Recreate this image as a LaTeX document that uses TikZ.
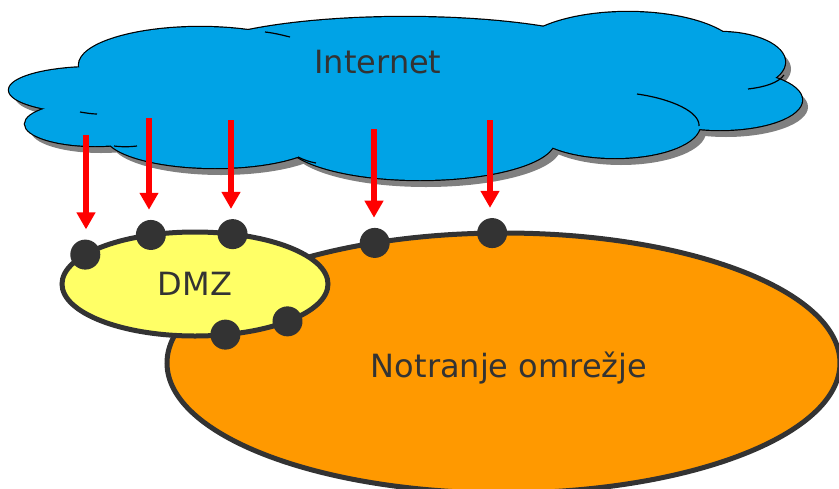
\documentclass[tikz,border=0pt]{standalone}
\usepackage{fontspec}
\setmainfont{DejaVu Sans}
\usetikzlibrary{shapes.geometric,arrows.meta}

\definecolor{cloudblue}{HTML}{00A3E6}
\definecolor{cloudshade}{HTML}{808080}
\definecolor{dmzyellow}{HTML}{FFFF66}
\definecolor{lanorange}{HTML}{FF9900}
\definecolor{darkgrey}{HTML}{333333}

% cloud lobes: centre x / centre y / x radius / y radius
\def\cloudlobes{95/90/86/23, 95/124/70/22, 200/65/121/38, 405/60/218/43,
  628/55/112/43, 720/62/65/30, 720/100/82/30, 615/125/85/33,
  420/140/135/40, 215/135/110/33}

\begin{document}
\begin{tikzpicture}[
    x=1pt, y=-1pt,
    zone/.style={ellipse, draw=darkgrey, line width=5pt, outer sep=0pt, inner sep=0pt, text=darkgrey, font=\fontsize{32}{38}\selectfont},
    port/.style={circle, fill=darkgrey, minimum size=30pt, inner sep=0pt},
    caption/.style={anchor=base, inner sep=0pt, text=darkgrey, font=\fontsize{32}{38}\selectfont},
    arrow/.style={-{Triangle[width=18pt,length=17pt]}, red, line width=6pt, shorten >=10pt}
]
\useasboundingbox (0,0) rectangle (839,488);
\clip (0,0) rectangle (839,488);

% Internet cloud: shadow, outline, fill
\foreach \cx/\cy/\rx/\ry in \cloudlobes
    \fill[cloudshade] (\cx+6,\cy+7) ellipse [x radius=\rx, y radius=\ry];
\fill[cloudshade] (416,102) ellipse [x radius=320, y radius=50];
\foreach \cx/\cy/\rx/\ry in \cloudlobes
    \draw[black, line width=2.4pt] (\cx,\cy) ellipse [x radius=\rx, y radius=\ry];
\foreach \cx/\cy/\rx/\ry in \cloudlobes
    \fill[cloudblue] (\cx,\cy) ellipse [x radius=\rx, y radius=\ry];
\fill[cloudblue] (410,95) ellipse [x radius=320, y radius=50];
% inner lobe edges
\draw[black, line width=1.2pt] (637,94) .. controls (672,99) and (700,112) .. (699,126)
    (748,89) .. controls (765,87) and (778,83) .. (784,75)
    (80,112) .. controls (86,113) and (92,114) .. (97,114)
    (114,146) .. controls (122,147) and (130,147) .. (137,146)
    (298,157) .. controls (304,160) and (310,162) .. (316,163)
    (265,32) .. controls (274,33) and (282,35) .. (290,37);
\node[caption] (inettext) at (378,73) {Internet};

% Inner network and DMZ
\node[zone, fill=lanorange, minimum width=673pt, minimum height=260pt] (lan) at (503.5,363) {};
\node[caption] (lantext) at (509,377) {Notranje omrežje};
\node[zone, fill=dmzyellow, minimum width=266pt, minimum height=104pt] (dmz) at (195,284) {DMZ};

% Access points
\node[port] (p1) at (dmz.165) {};
\node[port] (p2) at (dmz.132) {};
\node[port] (p3) at (dmz.53.5) {};
\node[port] (p4) at (lan.137) {};
\node[port] (p5) at (lan.95.5) {};
\node[port] (p6) at (dmz.301) {};
\node[port] (p7) at (dmz.338) {};

% Traffic from the Internet
\coordinate (src1) at (86,135);
\coordinate (src2) at (149,118);
\coordinate (src3) at (231,120);
\coordinate (src4) at (374,129);
\coordinate (src5) at (490,120);
\foreach \i in {1,...,5}
    \draw[arrow] (src\i) -- (src\i |- p\i.north);

\end{tikzpicture}
\end{document}
